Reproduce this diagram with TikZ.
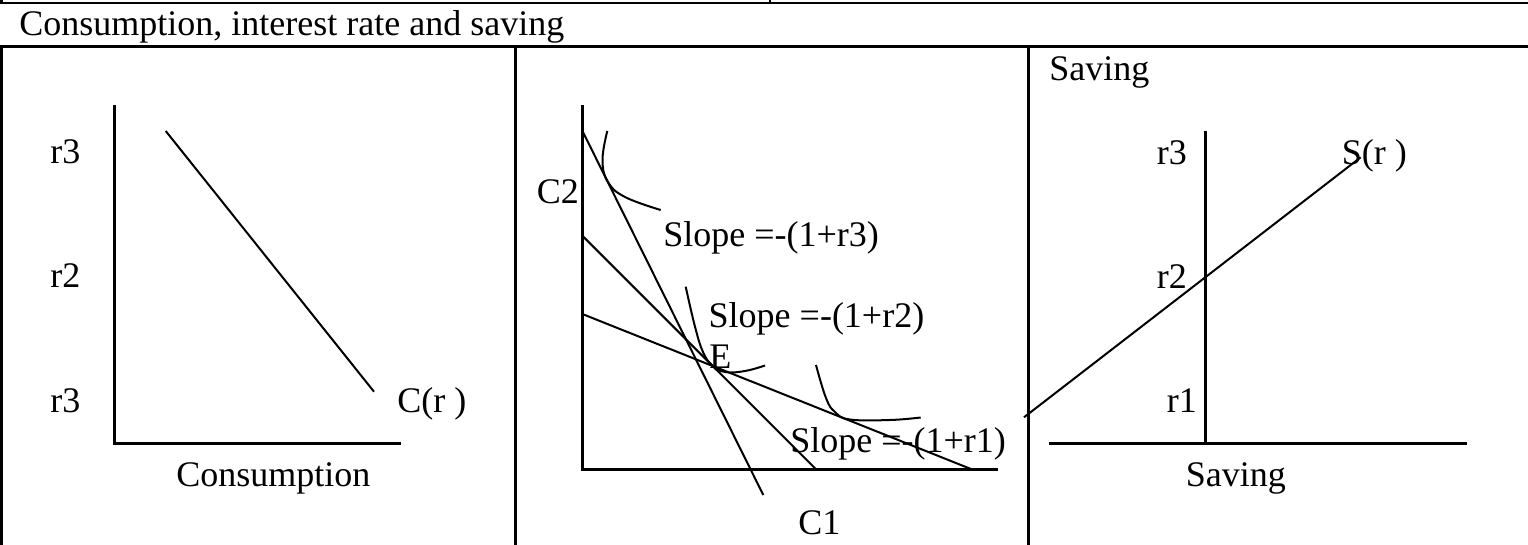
\documentclass[tikz,border=0pt]{standalone}
\usepackage{fontspec}
\setmainfont{Liberation Serif}
\begin{document}
\begin{tikzpicture}[x=0.5pt,y=-0.5pt,
  lbl/.style={anchor=base west, inner sep=0pt, font=\fontsize{18}{21}\selectfont},
  frame/.style={line width=1.3pt},
  axis/.style={line width=1.35pt},
  curve/.style={line width=1pt}]
\useasboundingbox (0,0) rectangle (1528,545);
% table frame
\draw[frame] (0,3) -- (1528,3);
\draw[frame] (1.5,0) -- (1.5,3);
\draw[frame] (770,0) -- (770,3);
\draw[frame] (0,46.5) -- (1528,46.5);
\draw[frame] (1.5,46.5) -- (1.5,545);
\draw[frame] (515.7,46.5) -- (515.7,545);
\draw[frame] (1028.5,46.5) -- (1028.5,545);
\node[lbl] (title) at (19,36) {Consumption, interest rate and saving};

% panel 1
\coordinate (o1) at (114.3,443.3);
\coordinate (y1) at (114.3,105);
\coordinate (x1) at (400.7,443.3);
\draw[axis] (y1) -- (o1) -- (x1);
\coordinate (c1a) at (165.7,131);
\coordinate (c1b) at (374,391.7);
\draw[curve] (c1a) -- (c1b);
\node[lbl] (p1r3) at (50,164) {r3};
\node[lbl] (p1r2) at (50,288) {r2};
\node[lbl] (p1r1) at (50,413) {r3};
\node[lbl] (cr) at (397,413) {C(r )};
\node[lbl] (cons) at (176,487) {Consumption};

% panel 2
\coordinate (o2) at (582.3,469.3);
\coordinate (y2) at (582.3,105);
\coordinate (x2) at (998.3,469.3);
\draw[axis] (y2) -- (o2) -- (x2);
\coordinate (la1) at (582.3,130.7);
\coordinate (la2) at (763.3,495);
\coordinate (lb1) at (582.3,235.7);
\coordinate (lb2) at (816,469.3);
\coordinate (lc1) at (582.3,314);
\coordinate (lc2) at (971.7,469.3);
\draw[curve] (la1) -- (la2);
\draw[curve] (lb1) -- (lb2);
\draw[curve] (lc1) -- (lc2);
\draw[curve] plot[smooth, tension=0.7] coordinates {(607.3,131) (602.5,160) (608,182) (625,197) (660.7,210)};
\draw[curve] plot[smooth, tension=0.7] coordinates {(685.7,286.7) (695,326.7) (703,352) (712,365) (725,372) (745,371) (765,365.5)};
\draw[curve] plot[smooth, tension=0.7] coordinates {(816,365) (826,398) (835,412) (850,419.5) (890,420) (920.7,417.5)};
\node[lbl] (c2) at (536.5,204) {C2};
\node[lbl] (s3) at (663,246.7) {Slope =-(1+r3)};
\node[lbl] (s2) at (708.3,328) {Slope =-(1+r2)};
\node[lbl] (e) at (709,368.3) {E};
\node[lbl] (s1) at (790,452.7) {Slope =-(1+r1)};
\node[lbl] (c1) at (798,534.3) {C1};

% panel 3
\coordinate (y3a) at (1205.7,131);
\coordinate (y3b) at (1205.7,443.3);
\coordinate (x3a) at (1049.3,443.3);
\coordinate (x3b) at (1466.7,443.3);
\draw[axis] (y3a) -- (y3b);
\draw[axis] (x3a) -- (x3b);
\coordinate (sa) at (1024,417.3);
\coordinate (sb) at (1360.7,157.3);
\draw[curve] (sa) -- (sb);
\node[lbl] (sav1) at (1049,80.7) {Saving};
\node[lbl] (q3) at (1156.5,164.3) {r3};
\node[lbl] (q2) at (1156.5,288.3) {r2};
\node[lbl] (q1) at (1166.5,412.7) {r1};
\node[lbl] (sr) at (1341.5,164.3) {S(r )};
\node[lbl] (sav2) at (1185.5,486.7) {Saving};
\end{tikzpicture}
\end{document}
